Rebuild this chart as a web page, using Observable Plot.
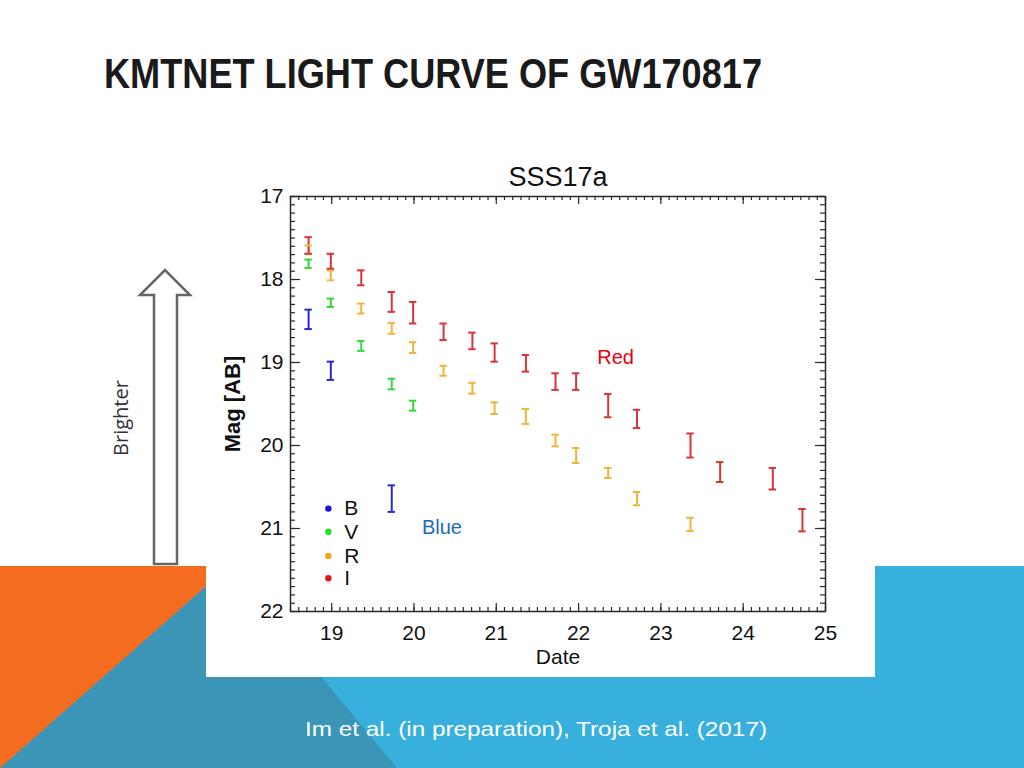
<!DOCTYPE html>
<html>
<head>
<meta charset="utf-8">
<script src="https://cdn.jsdelivr.net/npm/d3@7"></script>
<script src="https://cdn.jsdelivr.net/npm/@observablehq/plot@0.6"></script>
<style>
  html, body { margin: 0; padding: 0; background: #fff; }
  #slide { position: relative; width: 1024px; height: 768px; overflow: hidden; background: #fff; }
  #bg { position: absolute; left: 0; top: 0; }
  #box { position: absolute; left: 206px; top: 140px; width: 669px; height: 537px; background: #fff; }
  #chart { position: absolute; left: 206px; top: 140px; }
</style>
</head>
<body>
<div id="slide">
  <svg id="bg" width="1024" height="768" viewBox="0 0 1024 768">
    <rect x="0" y="566" width="1024" height="202" fill="#38b0dd"/>
    <polygon points="229,566 0,768 397,768" fill="#3a95b6"/>
    <polygon points="0,566 229,566 0,768" fill="#f36c1f"/>
    <path d="M154,564 L154,295 L140,295 L165,270 L190,295 L177,295 L177,564 Z" fill="#fff" stroke="#666" stroke-width="2.5" stroke-linejoin="miter"/>
    <text x="0" y="0" transform="translate(128,418) rotate(-90)" text-anchor="middle" font-family="'Open Sans', 'Noto Sans', sans-serif" font-size="20" fill="#333">Brighter</text>
    <text x="104" y="88" font-family="'Liberation Sans', Arial, sans-serif" font-weight="bold" font-size="43" fill="#1a1a1a" textLength="658" lengthAdjust="spacingAndGlyphs">KMTNET LIGHT CURVE OF GW170817</text>
    <text x="305" y="736" font-family="'Liberation Sans', Arial, sans-serif" font-size="21" fill="#ffffff" textLength="462" lengthAdjust="spacingAndGlyphs">Im et al. (in preparation), Troja et al. (2017)</text>
  </svg>
  <div id="box"></div>
  <div id="chart"></div>
</div>
<script>
// ---- data ----
const bands = ["B", "V", "R", "I"];
const bandColors = ["#2a2acc", "#36d836", "#f0b43c", "#d8343c"];
const legendColors = ["#1414d2", "#22e022", "#f2a414", "#e01414"];

const bDate = [18.72, 18.99, 19.73];
const bMag  = [18.48, 19.10, 20.64];
const bErr  = [0.117, 0.11, 0.16];

const vDate = [18.72, 18.99, 19.36, 19.73, 19.99];
const vMag  = [17.81, 18.28, 18.80, 19.26, 19.52];
const vErr  = [0.05, 0.05, 0.06, 0.064, 0.06];

const rDate = [18.72, 18.99, 19.36, 19.73, 19.99, 20.36, 20.71, 20.98, 21.36, 21.72, 21.97, 22.36, 22.71, 23.36];
const rMag  = [17.64, 17.95, 18.35, 18.59, 18.82, 19.10, 19.31, 19.55, 19.65, 19.94, 20.12, 20.33, 20.64, 20.95];
const rErr  = [0.05, 0.06, 0.06, 0.064, 0.064, 0.06, 0.064, 0.07, 0.09, 0.07, 0.09, 0.06, 0.08, 0.08];

const iDate = [18.72, 18.99, 19.36, 19.73, 19.99, 20.36, 20.71, 20.98, 21.36, 21.72, 21.97, 22.36, 22.71, 23.36, 23.72, 24.36, 24.72];
const iMag  = [17.59, 17.78, 17.98, 18.27, 18.40, 18.63, 18.74, 18.88, 19.01, 19.23, 19.23, 19.52, 19.68, 20.00, 20.32, 20.40, 20.90];
const iErr  = [0.10, 0.09, 0.09, 0.12, 0.13, 0.10, 0.10, 0.11, 0.10, 0.10, 0.10, 0.14, 0.11, 0.145, 0.12, 0.13, 0.135];

const xTicks = [19, 20, 21, 22, 23, 24, 25];
const yTicks = [17, 18, 19, 20, 21, 22];
const xDomain = [18.5, 25];
const yDomain = [17, 22];

const chartTitle = "SSS17a";
const xLabel = "Date";
const yLabel = "Mag [AB]";
const annotations = [
  {text: "Red", date: 22.45, mag: 18.94, color: "#e8000b"},
  {text: "Blue", date: 20.34, mag: 20.99, color: "#1a6eb5"}
];
const legendDate = 18.96;
const legendMag = [20.76, 21.04, 21.33, 21.60];

// ---- build table ----
function rowsFor(band, D, M, E) { return D.map((d, i) => ({band, date: d, mag: M[i], err: E[i]})); }
const rows = [
  ...rowsFor("B", bDate, bMag, bErr),
  ...rowsFor("V", vDate, vMag, vErr),
  ...rowsFor("R", rDate, rMag, rErr),
  ...rowsFor("I", iDate, iMag, iErr)
];
const legend = bands.map((b, i) => ({band: b, mag: legendMag[i], color: legendColors[i]}));

const W = 669, H = 537;
const mT = 56, mR = 50, mB = 66, mL = 84;
const innerW = W - mL - mR, innerH = H - mT - mB;
const xMinor = d3.range(185, 251).map(i => i / 10);
const yMinor = d3.range(170, 221).map(i => i / 10);
const font = "'Liberation Sans', Arial, sans-serif";
const ink = "#2a2a2a";
const cap = 0.045;

const chart = Plot.plot({
  width: W, height: H,
  marginTop: mT, marginRight: mR, marginBottom: mB, marginLeft: mL,
  style: {background: "#fff", fontFamily: font},
  x: {domain: xDomain, axis: null},
  y: {domain: yDomain, reverse: true, axis: null},
  color: {domain: bands, range: bandColors},
  marks: [
    // inward ticks, all four sides
    Plot.tickX(xMinor, {x: d => d, insetTop: innerH - 4, stroke: ink, strokeWidth: 1.2}),
    Plot.tickX(xTicks, {x: d => d, insetTop: innerH - 8, stroke: ink, strokeWidth: 1.2}),
    Plot.tickX(xMinor, {x: d => d, insetBottom: innerH - 4, stroke: ink, strokeWidth: 1.2}),
    Plot.tickX(xTicks, {x: d => d, insetBottom: innerH - 8, stroke: ink, strokeWidth: 1.2}),
    Plot.tickY(yMinor, {y: d => d, insetRight: innerW - 5, stroke: ink, strokeWidth: 1.2}),
    Plot.tickY(yTicks, {y: d => d, insetRight: innerW - 10, stroke: ink, strokeWidth: 1.2}),
    Plot.tickY(yMinor, {y: d => d, insetLeft: innerW - 5, stroke: ink, strokeWidth: 1.2}),
    Plot.tickY(yTicks, {y: d => d, insetLeft: innerW - 10, stroke: ink, strokeWidth: 1.2}),
    Plot.frame({stroke: ink, strokeWidth: 1.5}),
    // tick labels
    Plot.text(xTicks, {x: d => d, text: d => String(d), frameAnchor: "bottom", lineAnchor: "middle", dy: 22, fontSize: 21, fill: "#111"}),
    Plot.text(yTicks, {y: d => d, text: d => String(d), frameAnchor: "left", lineAnchor: "middle", dx: -7, textAnchor: "end", fontSize: 21, fill: "#111"}),
    // axis labels & title
    Plot.text([xLabel], {frameAnchor: "bottom", lineAnchor: "middle", dy: 46, fontSize: 21, fill: "#111"}),
    Plot.text([yLabel], {frameAnchor: "left", lineAnchor: "middle", textAnchor: "middle", dx: -58, rotate: -90, fontSize: 22, fontWeight: "bold", fill: "#111"}),
    Plot.text([chartTitle], {frameAnchor: "top", lineAnchor: "middle", dy: -19, fontSize: 27, fill: "#111"}),
    // error bars
    Plot.ruleX(rows, {x: "date", y1: d => d.mag - d.err, y2: d => d.mag + d.err, stroke: "band", strokeWidth: 2}),
    Plot.ruleY(rows, {y: d => d.mag - d.err, x1: d => d.date - cap, x2: d => d.date + cap, stroke: "band", strokeWidth: 2}),
    Plot.ruleY(rows, {y: d => d.mag + d.err, x1: d => d.date - cap, x2: d => d.date + cap, stroke: "band", strokeWidth: 2}),
    // legend
    Plot.dot(legend, {x: () => legendDate, y: "mag", r: 3.2, fill: d => d.color, stroke: null}),
    Plot.text(legend, {x: () => legendDate, y: "mag", text: "band", dx: 16, textAnchor: "start", fontSize: 21, fill: "#111"}),
    // annotations
    Plot.text(annotations, {x: "date", y: "mag", text: "text", fill: d => d.color, fontSize: 20})
  ]
});
document.getElementById("chart").appendChild(chart);
</script>
</body>
</html>
